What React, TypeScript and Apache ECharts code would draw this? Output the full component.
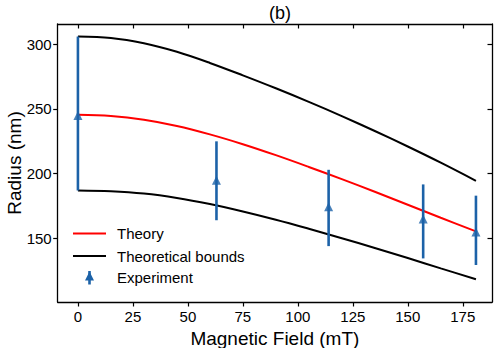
import React, { useEffect, useRef } from "react";
import * as echarts from "echarts";

const curveX = [0, 15, 30, 45, 60, 75, 90, 105, 120, 135, 150, 165, 181];
const theory = [245.5, 244.6, 241.7, 236.9, 230.4, 222.8, 214.3, 205.2, 195.8, 186, 176, 165.9, 155.4];
const upperBound = [306, 304.9, 300.8, 294.2, 285.6, 276, 266, 255.5, 244.5, 233, 221, 208.5, 194.5];
const lowerBound = [187, 186.4, 184.6, 181.2, 176.5, 170.8, 164.4, 157.4, 150.1, 142.6, 134.8, 126.8, 118.4];

const expX = [0, 63, 114, 157, 181];
const expY = [245, 195, 174.5, 165, 155];
const expLo = [187, 164, 144, 134.5, 129.4];
const expHi = [306, 225, 203, 191.7, 183];

const xTicks = [0, 25, 50, 75, 100, 125, 150, 175];
const yTicks = [150, 200, 250, 300];

const legendNames = ["Theory", "Theoretical bounds", "Experiment"];

const BLUE = "#1c62a8";
const FONT = "Liberation Sans, Arial, Helvetica, sans-serif";

export default function App() {
  const ref = useRef<HTMLDivElement>(null);
  useEffect(() => {
    if (!ref.current) return;
    const chart = echarts.init(ref.current, null, { renderer: "svg" });
    const axisLine = { show: true, onZero: false, lineStyle: { color: "#000", width: 1.3 } };
    const xRange = { min: -9.2, max: 188.3 };
    const yRange = { min: 100.8, max: 315.7 };
    const lineCommon = { smooth: 0.35, symbol: "none", z: 2 };
    const option: any = {
      animation: false,
      backgroundColor: "#fff",
      textStyle: { fontFamily: FONT },
      title: {
        text: "(b)",
        left: 275,
        top: -1,
        textAlign: "center",
        textStyle: { fontFamily: FONT, fontSize: 18, fontWeight: "normal", color: "#000" },
      },
      grid: { left: 57.7, right: 7, top: 24, bottom: 46, containLabel: false, outerBoundsMode: "none" },
      xAxis: [
        {
          type: "value",
          ...xRange,
          position: "bottom",
          name: "Magnetic Field (mT)",
          nameLocation: "middle",
          nameGap: 25,
          nameTextStyle: { fontFamily: FONT, fontSize: 19, color: "#000" },
          axisLine,
          splitLine: { show: false },
          axisTick: { show: true, inside: false, length: 4.5, customValues: xTicks, lineStyle: { color: "#000", width: 1.2 } },
          axisLabel: { show: true, customValues: xTicks, margin: 7, fontFamily: FONT, fontSize: 15, color: "#000" },
        },
        {
          type: "value",
          ...xRange,
          position: "top",
          axisLine,
          splitLine: { show: false },
          axisTick: { show: true, inside: true, length: 4.5, customValues: xTicks, lineStyle: { color: "#000", width: 1.2 } },
          axisLabel: { show: false },
        },
      ],
      yAxis: [
        {
          type: "value",
          ...yRange,
          position: "left",
          name: "Radius (nm)",
          nameLocation: "middle",
          nameGap: 34,
          nameMoveOverlap: false,
          nameTextStyle: { fontFamily: FONT, fontSize: 19, color: "#000" },
          axisLine,
          splitLine: { show: false },
          axisTick: { show: true, inside: false, length: 4.5, customValues: yTicks, lineStyle: { color: "#000", width: 1.2 } },
          axisLabel: { show: true, customValues: yTicks, margin: 6, fontFamily: FONT, fontSize: 15, color: "#000" },
        },
        {
          type: "value",
          ...yRange,
          position: "right",
          axisLine,
          splitLine: { show: false },
          axisTick: { show: true, inside: true, length: 4.5, customValues: yTicks, lineStyle: { color: "#000", width: 1.2 } },
          axisLabel: { show: false },
        },
      ],
      series: [
        {
          name: legendNames[0],
          type: "line",
          data: curveX.map((x, i) => [x, theory[i]]),
          ...lineCommon,
          lineStyle: { color: "#ff0000", width: 2 },
        },
        {
          name: legendNames[1],
          type: "line",
          data: curveX.map((x, i) => [x, upperBound[i]]),
          ...lineCommon,
          lineStyle: { color: "#000", width: 2 },
        },
        {
          name: legendNames[1] + " lower",
          type: "line",
          data: curveX.map((x, i) => [x, lowerBound[i]]),
          ...lineCommon,
          lineStyle: { color: "#000", width: 2 },
        },
        {
          name: legendNames[2] + " bars",
          type: "custom",
          data: expX.map((x, i) => [x, expLo[i], expHi[i]]),
          encode: { x: 0, y: [1, 2] },
          renderItem: (params: any, api: any) => {
            const x = api.value(0);
            const p1 = api.coord([x, api.value(1)]);
            const p2 = api.coord([x, api.value(2)]);
            return {
              type: "line",
              shape: { x1: p1[0], y1: p1[1], x2: p2[0], y2: p2[1] },
              style: { stroke: BLUE, lineWidth: 2.6 },
            };
          },
          z: 3,
        },
        {
          name: legendNames[2],
          type: "scatter",
          data: expX.map((x, i) => [x, expY[i]]),
          symbol: "triangle",
          symbolSize: [9, 9],
          itemStyle: { color: BLUE },
          z: 4,
        },
      ],
      graphic: [
        { type: "line", shape: { x1: 73, y1: 233.5, x2: 106, y2: 233.5 }, style: { stroke: "#ff0000", lineWidth: 2 } },
        { type: "text", x: 117, y: 233.5, style: { text: legendNames[0], fontFamily: FONT, fontSize: 15, fill: "#000", verticalAlign: "middle" } },
        { type: "line", shape: { x1: 73, y1: 256, x2: 106, y2: 256 }, style: { stroke: "#000", lineWidth: 2 } },
        { type: "text", x: 117, y: 256, style: { text: legendNames[1], fontFamily: FONT, fontSize: 15, fill: "#000", verticalAlign: "middle" } },
        { type: "line", shape: { x1: 89.5, y1: 271, x2: 89.5, y2: 284.5 }, style: { stroke: BLUE, lineWidth: 2.6 } },
        { type: "polygon", shape: { points: [[89.5, 271.5], [94, 280.5], [85, 280.5]] }, style: { fill: BLUE } },
        { type: "text", x: 117, y: 277.7, style: { text: legendNames[2], fontFamily: FONT, fontSize: 15, fill: "#000", verticalAlign: "middle" } },
      ],
    };
    chart.setOption(option);
    return () => chart.dispose();
  }, []);
  return <div ref={ref} style={{ width: 499, height: 348, position: "absolute", left: 0, top: 0 }} />;
}
